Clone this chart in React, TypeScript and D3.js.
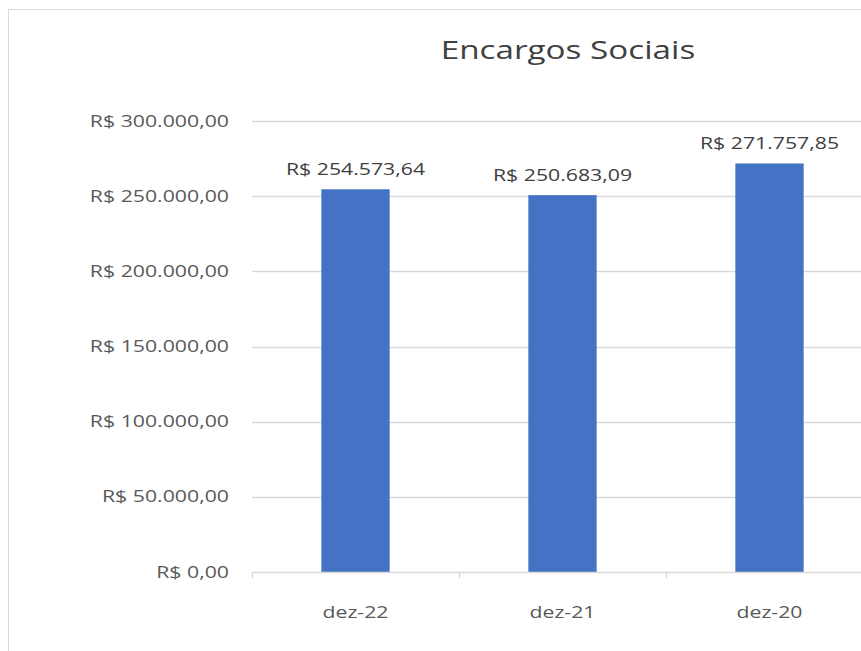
import * as d3 from "d3";
import React, { useRef, useEffect } from "react";

const categories = ["dez-22", "dez-21", "dez-20"];
const values = [254573.64, 250683.09, 271757.85];
const yTicks = [0, 50000, 100000, 150000, 200000, 250000, 300000];

const brl = (v: number) =>
  "R$ " +
  v
    .toFixed(2)
    .replace(".", ",")
    .replace(/\B(?=(\d{3})+(?!\d))/g, ".");

// the reference text is wide, so glyphs are stretched horizontally
const stretch = 1.33;

const drawChart = (node: SVGSVGElement) => {
  const width = 861;
  const height = 651;
  const margin = { top: 121, left: 252, bottom: 79 };
  const plotW = 621;

  const svg = d3.select(node);
  svg.selectAll("*").remove();

  const font = "'Open Sans', sans-serif";

  const label = (
    sel: d3.Selection<any, any, any, any>,
    size: number,
    color: string,
    anchor: string
  ) =>
    sel
      .append("text")
      .attr("transform", `scale(${stretch},1)`)
      .style("font-family", font)
      .style("font-size", size + "px")
      .style("fill", color)
      .style("text-anchor", anchor);

  svg
    .append("rect")
    .attr("x", 8.5)
    .attr("y", 9.5)
    .attr("width", width)
    .attr("height", height)
    .style("fill", "#fff")
    .style("stroke", "#d9d9d9");

  const x = d3
    .scaleBand()
    .domain(categories)
    .range([margin.left, margin.left + plotW])
    .paddingInner(0.67)
    .paddingOuter(0.335);

  const y = d3
    .scaleLinear()
    .domain([0, 300000])
    .range([height - margin.bottom, margin.top]);

  // title
  const gTitle = svg.append("g").attr("transform", "translate(568,59)");
  label(gTitle, 25, "#404040", "middle").text("Encargos Sociais");

  // gridlines
  svg
    .append("g")
    .selectAll("line")
    .data(yTicks.slice(1))
    .join("line")
    .attr("x1", margin.left)
    .attr("x2", margin.left + plotW)
    .attr("y1", (d) => Math.round(y(d)) + 0.5)
    .attr("y2", (d) => Math.round(y(d)) + 0.5)
    .style("stroke", "#d9d9d9")
    .style("stroke-width", "1.3px");

  // y labels
  svg
    .append("g")
    .selectAll("g")
    .data(yTicks)
    .join("g")
    .attr("transform", (d) => `translate(229,${y(d)})`)
    .each(function (d) {
      label(d3.select(this), 16, "#595959", "end")
        .attr("dy", "0.35em")
        .text(brl(d));
    });

  // bars
  svg
    .append("g")
    .selectAll("rect")
    .data(values)
    .join("rect")
    .attr("x", (d, i) => x(categories[i])!)
    .attr("width", x.bandwidth())
    .attr("y", (d) => y(d))
    .attr("height", (d) => y(0) - y(d))
    .style("fill", "#4472c4");

  // value labels
  svg
    .append("g")
    .selectAll("g")
    .data(values)
    .join("g")
    .attr(
      "transform",
      (d, i) =>
        `translate(${x(categories[i])! + x.bandwidth() / 2},${y(d) - 14})`
    )
    .each(function (d) {
      label(d3.select(this), 16, "#404040", "middle").text(brl(d));
    });

  // x axis
  const axisY = Math.round(y(0)) + 0.5;
  svg
    .append("line")
    .attr("x1", margin.left)
    .attr("x2", margin.left + plotW)
    .attr("y1", axisY)
    .attr("y2", axisY)
    .style("stroke", "#d9d9d9")
    .style("stroke-width", "1.3px");

  const step = x.step();
  svg
    .append("g")
    .selectAll("line")
    .data(d3.range(categories.length + 1))
    .join("line")
    .attr("x1", (d) => margin.left + d * step + 0.5)
    .attr("x2", (d) => margin.left + d * step + 0.5)
    .attr("y1", axisY)
    .attr("y2", axisY + 6)
    .style("stroke", "#d9d9d9")
    .style("stroke-width", "1.3px");

  svg
    .append("g")
    .selectAll("g")
    .data(categories)
    .join("g")
    .attr("transform", (d) => `translate(${x(d)! + x.bandwidth() / 2},618)`)
    .each(function (d) {
      label(d3.select(this), 16, "#595959", "middle").text(d);
    });
};

export default function App() {
  const ref = useRef<SVGSVGElement>(null);

  useEffect(() => {
    if (ref.current) drawChart(ref.current);
  }, []);

  return (
    <svg
      ref={ref}
      width={861}
      height={651}
      style={{ position: "absolute", left: 0, top: 0, background: "#fff" }}
    />
  );
}
